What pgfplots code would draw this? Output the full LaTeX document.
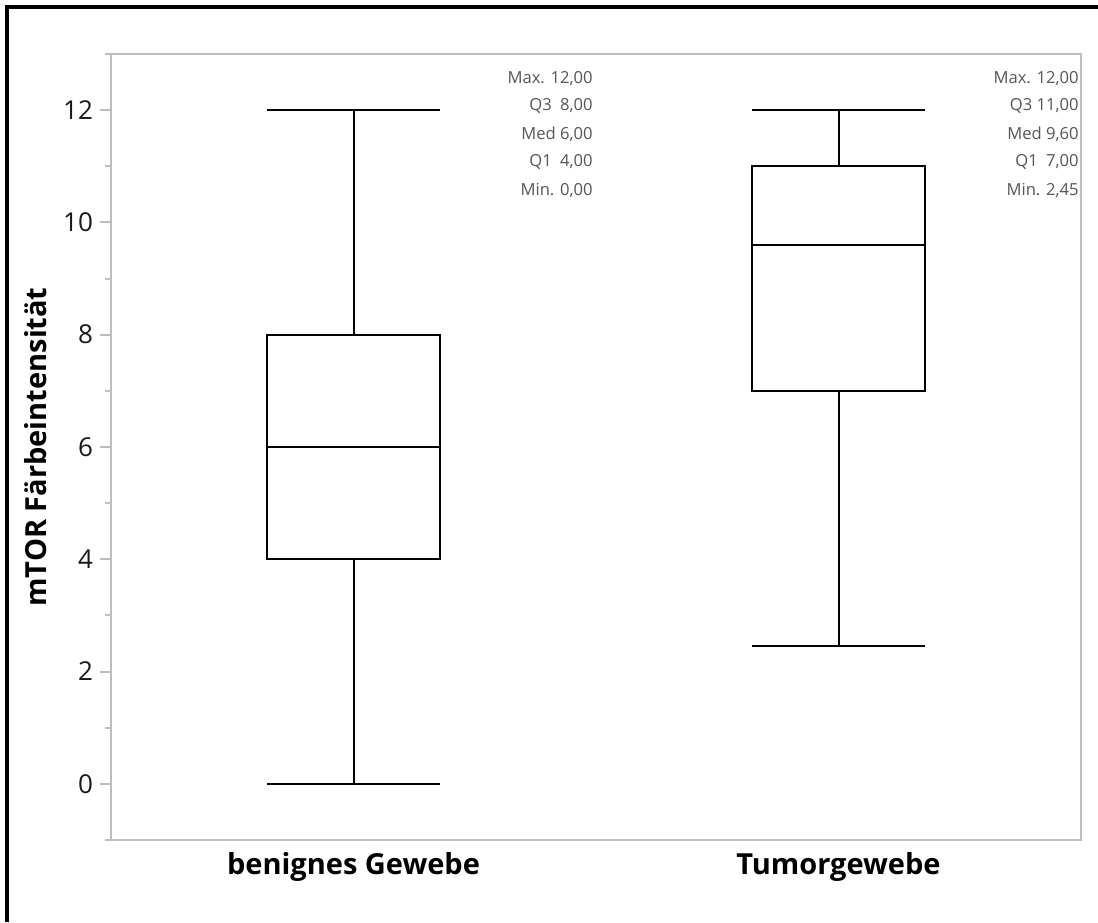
\documentclass[border=0pt]{standalone}
\usepackage{pgfplots}
\pgfplotsset{compat=1.18}
\usepgfplotslibrary{statistics}
\usepackage{fontspec}
\setmainfont{Open Sans}
\definecolor{axisgray}{RGB}{190,190,190}
\definecolor{ticktext}{RGB}{25,25,25}
\definecolor{stattext}{RGB}{85,85,85}
\begin{document}
\begin{tikzpicture}
\useasboundingbox (0pt,0pt) rectangle (549pt,461pt);
% outer frame (left and top edges)
\draw[line width=2pt] (3.5pt,0pt) -- (3.5pt,457.5pt) -- (549pt,457.5pt);
\begin{axis}[
  at={(55.5pt,41pt)}, anchor=south west,
  scale only axis, width=485pt, height=393pt,
  xmin=-0.5, xmax=1.5, ymin=-1, ymax=13,
  axis line style={draw=axisgray, line width=1pt},
  ytick={0,2,...,12}, minor ytick={-1,1,...,13},
  ytick pos=left,
  xtick={0,1}, xticklabels={benignes Gewebe, Tumorgewebe},
  x tick style={draw=none},
  y tick style={draw=axisgray, line width=1pt},
  tick align=outside, major tick length=5.5pt, minor tick length=3pt,
  /pgf/number format/assume math mode=true,
  yticklabel style={font=\fontsize{13}{15}\selectfont, text=ticktext},
  xticklabel style={font=\bfseries\fontsize{14.5}{17}\selectfont, text=black, yshift=3pt},
  ylabel={mTOR Färbeintensität},
  ylabel style={font=\bfseries\fontsize{14.5}{17}\selectfont, at={(axis description cs:-0.078,0.5)}, anchor=center},
  boxplot/draw direction=y,
  clip=false,
]
\addplot[draw=black, line width=1pt, boxplot prepared={draw position=0, median=6, upper quartile=8, lower quartile=4, upper whisker=12, lower whisker=0, box extend=0.355, whisker extend=0.355}] coordinates {};
\addplot[draw=black, line width=1pt, boxplot prepared={draw position=1, median=9.6, upper quartile=11, lower quartile=7, upper whisker=12, lower whisker=2.45, box extend=0.355, whisker extend=0.355}] coordinates {};
% summary statistics
\begin{scope}[every node/.style={anchor=east, inner sep=0pt, text=stattext, font=\fontsize{8.3}{9}\selectfont}]
\node at (axis cs:0.494,12.57) {Max. 12,00};
\node at (axis cs:0.494,12.07) {Q3\enspace 8,00};
\node at (axis cs:0.494,11.57) {Med 6,00};
\node at (axis cs:0.494,11.07) {Q1\enspace 4,00};
\node at (axis cs:0.494,10.57) {Min. 0,00};
\node at (axis cs:1.496,12.57) {Max. 12,00};
\node at (axis cs:1.496,12.07) {Q3 11,00};
\node at (axis cs:1.496,11.57) {Med 9,60};
\node at (axis cs:1.496,11.07) {Q1\enspace 7,00};
\node at (axis cs:1.496,10.57) {Min. 2,45};
\end{scope}
\end{axis}
\end{tikzpicture}
\end{document}
